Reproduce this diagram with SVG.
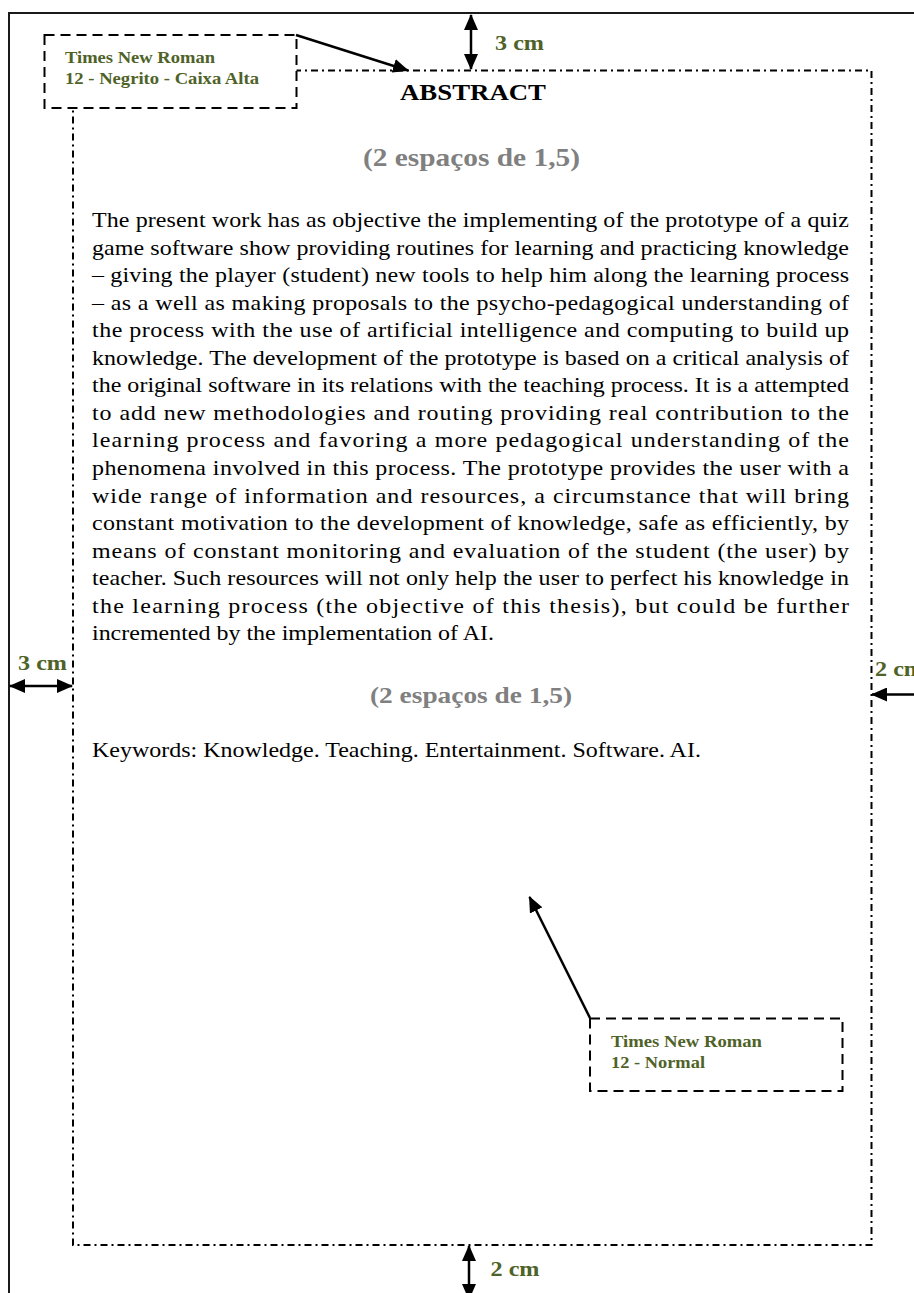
<svg xmlns="http://www.w3.org/2000/svg" width="914" height="1293" viewBox="0 0 914 1293">
<defs>
<marker id="ah" viewBox="0 0 16 14" refX="15" refY="7" markerWidth="16" markerHeight="14" markerUnits="userSpaceOnUse" orient="auto-start-reverse">
<path d="M0,0 L16,7 L0,14 z" fill="#000"/>
</marker>
<style>
.page{fill:none;stroke:#1a1a1a;stroke-width:2}
.margin{fill:none;stroke:#000;stroke-width:2;stroke-dasharray:7 4 2 4}
.box{fill:#fff;stroke:#000;stroke-width:2;stroke-dasharray:10 6}
.arr{fill:none;stroke:#000;stroke-width:2.5}
.lbl{font-family:"Liberation Serif","Times New Roman",serif;font-weight:bold;fill:#4F6228}
.cm{font-family:"Liberation Serif","Times New Roman",serif;font-weight:bold;fill:#4F6228;font-size:21px}
.gray{font-family:"Liberation Serif","Times New Roman",serif;font-weight:bold;fill:#808080}
.title{font-family:"Liberation Serif","Times New Roman",serif;font-weight:bold;fill:#000}
.body{font-family:"Liberation Serif","Times New Roman",serif;font-size:22px;fill:#000}
</style>
</defs>
<rect width="914" height="1293" fill="#fff"/>
<g id="page">
<path class="page" d="M9,1293 L9,13 L914,13"/>
</g>
<g id="margins">
<rect class="margin" x="73" y="70.5" width="798.5" height="1174.5"/>
</g>
<g id="content">
<text class="title" x="400" y="100" font-size="24" textLength="146" lengthAdjust="spacingAndGlyphs">ABSTRACT</text>
<text class="gray" x="363" y="166" font-size="25" textLength="217" lengthAdjust="spacingAndGlyphs">(2 espaços de 1,5)</text>
<g transform="scale(1.09,1)" class="body">
<text x="84.4" y="227.3" textLength="694.5" lengthAdjust="spacing">The present work has as objective the implementing of the prototype of a quiz</text>
<text x="84.4" y="254.8" textLength="694.5" lengthAdjust="spacing">game software show providing routines for learning and practicing knowledge</text>
<text x="84.4" y="282.4" textLength="694.5" lengthAdjust="spacing">– giving the player (student) new tools to help him along the learning process</text>
<text x="84.4" y="309.9" textLength="694.5" lengthAdjust="spacing">– as a well as making proposals to the psycho-pedagogical understanding of</text>
<text x="84.4" y="337.4" textLength="694.5" lengthAdjust="spacing">the process with the use of artificial intelligence and computing to build up</text>
<text x="84.4" y="365.0" textLength="694.5" lengthAdjust="spacing">knowledge. The development of the prototype is based on a critical analysis of</text>
<text x="84.4" y="392.5" textLength="694.5" lengthAdjust="spacing">the original software in its relations with the teaching process. It is a attempted</text>
<text x="84.4" y="420.0" textLength="694.5" lengthAdjust="spacing">to add new methodologies and routing providing real contribution to the</text>
<text x="84.4" y="447.5" textLength="694.5" lengthAdjust="spacing">learning process and favoring a more pedagogical understanding of the</text>
<text x="84.4" y="475.1" textLength="694.5" lengthAdjust="spacing">phenomena involved in this process. The prototype provides the user with a</text>
<text x="84.4" y="502.6" textLength="694.5" lengthAdjust="spacing">wide range of information and resources, a circumstance that will bring</text>
<text x="84.4" y="530.1" textLength="694.5" lengthAdjust="spacing">constant motivation to the development of knowledge, safe as efficiently, by</text>
<text x="84.4" y="557.7" textLength="694.5" lengthAdjust="spacing">means of constant monitoring and evaluation of the student (the user) by</text>
<text x="84.4" y="585.2" textLength="694.5" lengthAdjust="spacing">teacher. Such resources will not only help the user to perfect his knowledge in</text>
<text x="84.4" y="612.7" textLength="694.5" lengthAdjust="spacing">the learning process (the objective of this thesis), but could be further</text>
<text x="84.4" y="640.2">incremented by the implementation of AI.</text>
<text x="84.4" y="757">Keywords: Knowledge. Teaching. Entertainment. Software. AI.</text>
</g>
<text class="gray" x="370" y="703" font-size="23" textLength="202" lengthAdjust="spacingAndGlyphs">(2 espaços de 1,5)</text>
</g>
<g id="connectors">
<line class="arr" x1="471" y1="15" x2="471" y2="69" marker-start="url(#ah)" marker-end="url(#ah)"/>
<line class="arr" x1="10" y1="686" x2="72" y2="686" marker-start="url(#ah)" marker-end="url(#ah)"/>
<line class="arr" x1="872" y1="694.5" x2="930" y2="694.5" marker-start="url(#ah)" marker-end="url(#ah)"/>
<line class="arr" x1="469" y1="1246" x2="469" y2="1299" marker-start="url(#ah)" marker-end="url(#ah)"/>
</g>
<g id="note-top">
<rect class="box" x="44.5" y="35" width="252" height="73"/>
<text class="lbl" x="65" y="63" font-size="17" textLength="150" lengthAdjust="spacingAndGlyphs">Times New Roman</text>
<text class="lbl" x="65" y="84" font-size="17" textLength="194" lengthAdjust="spacingAndGlyphs">12 - Negrito - Caixa Alta</text>
</g>
<g id="note-bottom">
<rect class="box" x="590" y="1018.5" width="252.5" height="72.5"/>
<text class="lbl" x="611" y="1047" font-size="17" textLength="151" lengthAdjust="spacingAndGlyphs">Times New Roman</text>
<text class="lbl" x="611" y="1068" font-size="17" textLength="94" lengthAdjust="spacingAndGlyphs">12 - Normal</text>
</g>
<g id="note-connectors">
<line class="arr" x1="296" y1="35" x2="408" y2="70.5" marker-end="url(#ah)"/>
<line class="arr" x1="590" y1="1018" x2="529.5" y2="897" marker-end="url(#ah)"/>
</g>
<g id="cm-labels">
<text class="cm" x="495" y="50" textLength="49" lengthAdjust="spacingAndGlyphs">3 cm</text>
<text class="cm" x="18" y="670" textLength="49" lengthAdjust="spacingAndGlyphs">3 cm</text>
<text class="cm" x="875" y="676" textLength="49" lengthAdjust="spacingAndGlyphs">2 cm</text>
<text class="cm" x="490.5" y="1276" textLength="49" lengthAdjust="spacingAndGlyphs">2 cm</text>
</g>
</svg>
